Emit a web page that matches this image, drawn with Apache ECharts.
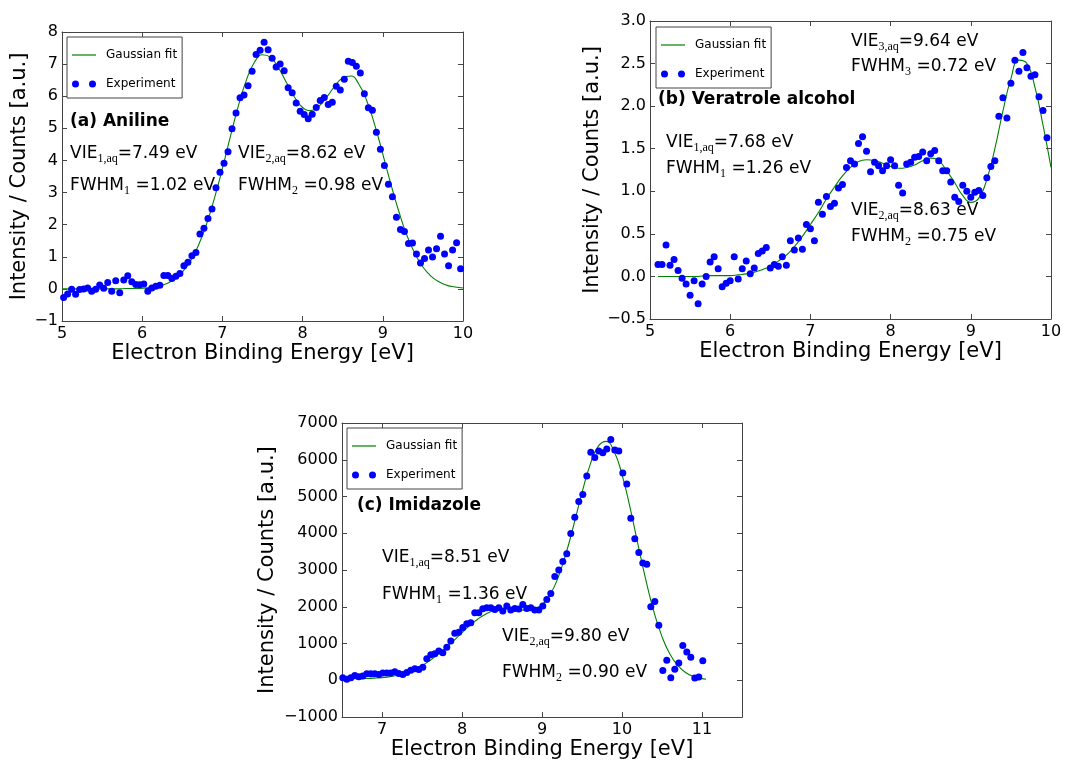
<!DOCTYPE html>
<html>
<head>
<meta charset="utf-8">
<script src="https://cdn.jsdelivr.net/npm/echarts@6/dist/echarts.min.js"></script>
<style>
html, body { margin: 0; padding: 0; background: #fff; }
#container { width: 1065px; height: 761px; }
</style>
</head>
<body>
<div id="container"></div>
<script>
// (a) Aniline - measured points
var anilineEnergy = [
	5.02, 5.07, 5.12, 5.17, 5.22, 5.27, 5.32, 5.37, 5.42, 5.47,
	5.52, 5.57, 5.62, 5.67, 5.72, 5.77, 5.82, 5.87, 5.92, 5.97,
	6.02, 6.07, 6.12, 6.17, 6.22, 6.27, 6.32, 6.37, 6.42, 6.47,
	6.52, 6.57, 6.62, 6.67, 6.72, 6.77, 6.82, 6.87, 6.92, 6.97,
	7.02, 7.07, 7.12, 7.17, 7.22, 7.27, 7.32, 7.37, 7.42, 7.47,
	7.52, 7.57, 7.62, 7.67, 7.72, 7.77, 7.82, 7.87, 7.92, 7.97,
	8.02, 8.07, 8.12, 8.17, 8.22, 8.27, 8.32, 8.37, 8.42, 8.47,
	8.52, 8.57, 8.62, 8.67, 8.72, 8.77, 8.82, 8.87, 8.92, 8.97,
	9.02, 9.07, 9.12, 9.17, 9.22, 9.27, 9.32, 9.37, 9.42, 9.47,
	9.52, 9.57, 9.62, 9.67, 9.72, 9.77, 9.82, 9.87, 9.92, 9.97
];
var anilineCounts = [
	-0.27, -0.16, -0.01, -0.17, -0.02, 0.00, 0.03, -0.07, -0.01, 0.12,
	0.02, 0.20, -0.07, 0.25, -0.12, 0.28, 0.41, 0.22, 0.14, 0.13,
	0.15, -0.07, 0.03, 0.08, 0.11, 0.42, 0.42, 0.32, 0.39, 0.48,
	0.72, 0.83, 1.03, 1.13, 1.71, 1.89, 2.19, 2.49, 3.15, 3.63,
	3.91, 4.27, 4.99, 5.48, 5.95, 6.04, 6.33, 6.78, 7.30, 7.43,
	7.68, 7.45, 7.18, 6.91, 7.00, 6.79, 6.26, 6.11, 5.79, 5.53,
	5.43, 5.30, 5.44, 5.65, 5.87, 5.96, 5.74, 5.81, 6.31, 6.19,
	6.53, 7.09, 7.05, 6.93, 6.72, 6.08, 5.64, 5.56, 4.88, 4.35,
	3.84, 3.26, 2.87, 2.23, 1.85, 1.79, 1.41, 1.43, 1.09, 0.81,
	0.95, 1.21, 0.99, 1.25, 1.64, 1.09, 0.72, 1.21, 1.44, 0.63
];
// (a) fitted curve
var anilineFitEnergy = [
	5.0, 5.1, 5.2, 5.3, 5.4, 5.5, 5.6, 5.7, 5.8, 5.9,
	6.0, 6.1, 6.2, 6.3, 6.4, 6.5, 6.6, 6.7, 6.8, 6.9,
	7.0, 7.1, 7.2, 7.3, 7.4, 7.5, 7.6, 7.7, 7.8, 7.9,
	8.0, 8.1, 8.2, 8.3, 8.4, 8.5, 8.6, 8.7, 8.8, 8.9,
	9.0, 9.1, 9.2, 9.3, 9.4, 9.5, 9.6, 9.7, 9.8, 9.9, 10.0
];
var anilineFit = [
	0.00, 0.00, 0.00, 0.00, 0.00, 0.00, 0.00, 0.00, 0.01, 0.01,
	0.02, 0.04, 0.08, 0.16, 0.30, 0.52, 0.86, 1.35, 2.00, 2.82,
	3.75, 4.75, 5.71, 6.51, 7.06, 7.29, 7.21, 6.88, 6.42, 5.97,
	5.65, 5.55, 5.68, 5.97, 6.31, 6.57, 6.63, 6.38, 5.86, 5.10,
	4.20, 3.27, 2.41, 1.67, 1.10, 0.68, 0.40, 0.22, 0.11, 0.06, 0.03
];

// (b) Veratrole alcohol
var veratroleEnergy = [
	5.10, 5.15, 5.20, 5.25, 5.30, 5.35, 5.40, 5.45, 5.50, 5.55,
	5.60, 5.65, 5.70, 5.75, 5.80, 5.85, 5.90, 5.95, 6.00, 6.05,
	6.10, 6.15, 6.20, 6.25, 6.30, 6.35, 6.40, 6.45, 6.50, 6.55,
	6.60, 6.65, 6.70, 6.75, 6.80, 6.85, 6.90, 6.95, 7.00, 7.05,
	7.10, 7.15, 7.20, 7.25, 7.30, 7.35, 7.40, 7.45, 7.50, 7.55,
	7.60, 7.65, 7.70, 7.75, 7.80, 7.85, 7.90, 7.95, 8.00, 8.05,
	8.10, 8.15, 8.20, 8.25, 8.30, 8.35, 8.40, 8.45, 8.50, 8.55,
	8.60, 8.65, 8.70, 8.75, 8.80, 8.85, 8.90, 8.95, 9.00, 9.05,
	9.10, 9.15, 9.20, 9.25, 9.30, 9.35, 9.40, 9.45, 9.50, 9.55,
	9.60, 9.65, 9.70, 9.75, 9.80, 9.85, 9.90, 9.95
];
var veratroleCounts = [
	0.14, 0.14, 0.37, 0.13, 0.20, 0.07, -0.02, -0.09, -0.22, -0.05,
	-0.32, -0.09, 0.00, 0.17, 0.23, 0.09, -0.12, -0.08, -0.05, 0.23,
	-0.03, 0.09, 0.18, 0.03, 0.10, 0.27, 0.30, 0.34, 0.10, 0.14,
	0.12, 0.23, 0.13, 0.42, 0.31, 0.45, 0.32, 0.61, 0.56, 0.42,
	0.87, 0.73, 0.94, 0.82, 0.86, 1.04, 1.08, 1.28, 1.36, 1.32,
	1.56, 1.64, 1.47, 1.23, 1.34, 1.30, 1.24, 1.30, 1.37, 1.30,
	1.07, 0.98, 1.32, 1.34, 1.40, 1.41, 1.46, 1.36, 1.44, 1.48,
	1.36, 1.24, 1.24, 1.11, 0.93, 0.88, 1.07, 1.00, 0.93, 0.99,
	1.01, 0.95, 1.16, 1.29, 1.36, 1.88, 2.10, 1.86, 2.27, 2.54,
	2.41, 2.63, 2.45, 2.35, 2.37, 2.11, 1.95, 1.63
];
var veratroleFitEnergy = [
	5.1, 5.2, 5.3, 5.4, 5.5, 5.6, 5.7, 5.8, 5.9,
	6.0, 6.1, 6.2, 6.3, 6.4, 6.5, 6.6, 6.7, 6.8, 6.9,
	7.0, 7.1, 7.2, 7.3, 7.4, 7.5, 7.6, 7.7, 7.8, 7.9,
	8.0, 8.1, 8.2, 8.3, 8.4, 8.5, 8.6, 8.7, 8.8, 8.9,
	9.0, 9.1, 9.2, 9.3, 9.4, 9.5, 9.6, 9.7, 9.8, 9.9, 10.0
];
var veratroleFit = [
	0.00, 0.00, 0.00, 0.00, 0.00, 0.00, 0.01, 0.01, 0.01,
	0.01, 0.02, 0.03, 0.05, 0.08, 0.12, 0.18, 0.25, 0.35, 0.47,
	0.61, 0.75, 0.91, 1.05, 1.18, 1.28, 1.35, 1.37, 1.36, 1.33,
	1.29, 1.27, 1.28, 1.31, 1.36, 1.39, 1.36, 1.24, 1.10, 0.95,
	0.87, 0.92, 1.14, 1.50, 1.94, 2.32, 2.54, 2.50, 2.22, 1.78, 1.28
];

// (c) Imidazole
var imidazoleEnergy = [
	6.51, 6.56, 6.61, 6.66, 6.71, 6.76, 6.81, 6.86, 6.91, 6.96,
	7.01, 7.06, 7.11, 7.16, 7.21, 7.26, 7.31, 7.36, 7.41, 7.46,
	7.51, 7.56, 7.61, 7.66, 7.71, 7.76, 7.81, 7.86, 7.91, 7.96,
	8.01, 8.06, 8.11, 8.16, 8.21, 8.26, 8.31, 8.36, 8.41, 8.46,
	8.51, 8.56, 8.61, 8.66, 8.71, 8.76, 8.81, 8.86, 8.91, 8.96,
	9.01, 9.06, 9.11, 9.16, 9.21, 9.26, 9.31, 9.36, 9.41, 9.46,
	9.51, 9.56, 9.61, 9.66, 9.71, 9.76, 9.81, 9.86, 9.91, 9.96,
	10.01, 10.06, 10.11, 10.16, 10.21, 10.26, 10.31, 10.36, 10.41, 10.46,
	10.51, 10.56, 10.61, 10.66, 10.71, 10.76, 10.81, 10.86, 10.91, 10.96,
	11.01
];
var imidazoleCounts = [
	72, 27, 72, 134, 98, 116, 179, 179, 179, 161,
	197, 197, 197, 232, 188, 161, 214, 277, 313, 295,
	357, 590, 697, 724, 795, 751, 903, 1072, 1278, 1305,
	1439, 1537, 1564, 1841, 1841, 1948, 1975, 1975, 1930, 1975,
	1886, 2020, 1912, 1957, 1939, 2064, 1957, 1975, 1912, 1912,
	2020, 2198, 2359, 2824, 3003, 3235, 3441, 3995, 4433, 4862,
	5058, 5559, 6202, 6059, 6237, 6193, 6291, 6550, 6264, 6237,
	5639, 5344, 4406, 3852, 3476, 3190, 3155, 2002, 2145, 1501,
	268, 545, 72, 304, 474, 947, 769, 626, 63, 89,
	536
];
var imidazoleFitEnergy = [
	6.5, 6.6, 6.7, 6.8, 6.9, 7.0, 7.1, 7.2, 7.3, 7.4,
	7.5, 7.6, 7.7, 7.8, 7.9, 8.0, 8.1, 8.2, 8.3, 8.4,
	8.5, 8.6, 8.7, 8.8, 8.9, 9.0, 9.1, 9.2, 9.3, 9.4,
	9.5, 9.6, 9.7, 9.8, 9.9, 10.0, 10.1, 10.2, 10.3, 10.4,
	10.5, 10.6, 10.7, 10.8, 10.9, 11.0, 11.05
];
var imidazoleFit = [
	40, 42, 45, 50, 60, 75, 100, 145, 210, 295,
	400, 540, 705, 890, 1090, 1300, 1495, 1670, 1805, 1900,
	1945, 1950, 1928, 1908, 1933, 2055, 2329, 2792, 3450, 4253,
	5104, 5854, 6357, 6500, 6232, 5598, 4704, 3692, 2709, 1856,
	1189, 711, 398, 208, 101, 46, 31
];
var imidazoleTicks = [7, 8, 9, 10, 11];

var fontMain = 'DejaVu Sans';
var frameColor = '#444';
var dotsIcon = 'path://M0,3.5a3.5,3.5 0 1,0 7,0a3.5,3.5 0 1,0 -7,0zM17,3.5a3.5,3.5 0 1,0 7,0a3.5,3.5 0 1,0 -7,0z';
var lineIcon = 'path://M0,0L24,0L24,1.2L0,1.2Z';

function pairs(xs, ys) {
	return xs.map(function (x, i) { return [x, ys[i]]; });
}
function minus(v) {
	return String(v).replace('-', '\u2212');
}

// axis helper: main axes carry labels, the others only close the frame
function xAxisFor(grid, pos, min, max, custom) {
	var main = pos === 'bottom';
	var ax = {
		type: 'value', gridIndex: grid, position: pos, min: min, max: max, interval: 1,
		axisLine: {show: true, onZero: false, lineStyle: {color: frameColor, width: 1}},
		axisTick: {show: true, inside: true, length: 5, lineStyle: {color: frameColor}},
		splitLine: {show: false},
		axisLabel: {show: main, color: '#000', fontSize: 16, fontFamily: fontMain, margin: 5, formatter: minus}
	};
	if (custom) {
		ax.axisTick.customValues = custom;
		ax.axisLabel.customValues = custom;
	}
	if (main) {
		ax.name = 'Electron Binding Energy [eV]';
		ax.nameLocation = 'middle';
		ax.nameGap = 17;
		ax.nameTextStyle = {fontSize: 21, fontFamily: fontMain, color: '#000', verticalAlign: 'top'};
	}
	return ax;
}
function yAxisFor(grid, pos, min, max, interval, fmt, gap) {
	var main = pos === 'left';
	var ax = {
		type: 'value', gridIndex: grid, position: pos, min: min, max: max, interval: interval,
		axisLine: {show: true, onZero: false, lineStyle: {color: frameColor, width: 1}},
		axisTick: {show: true, inside: true, length: 5, lineStyle: {color: frameColor}},
		splitLine: {show: false},
		axisLabel: {show: main, color: '#000', fontSize: 16, fontFamily: fontMain, margin: 4, formatter: fmt}
	};
	if (main) {
		ax.name = 'Intensity / Counts [a.u.]';
		ax.nameLocation = 'middle';
		ax.nameGap = gap;
		ax.nameTextStyle = {fontSize: 21, fontFamily: fontMain, color: '#000'};
	}
	return ax;
}

function legendFor(left, top) {
	return {
		orient: 'vertical', left: left, top: top,
		padding: [12, 5, 8, 5],
		itemWidth: 24, itemHeight: 12, itemGap: 17,
		symbolKeepAspect: true,
		borderColor: frameColor, borderWidth: 1, borderRadius: 0, backgroundColor: '#fff',
		selectedMode: false,
		itemStyle: {borderWidth: 0},
		textStyle: {fontSize: 12, fontFamily: fontMain, color: '#000', padding: [0, 0, 0, 5]},
		data: [
			{name: 'Gaussian fit', icon: lineIcon},
			{name: 'Experiment', icon: dotsIcon}
		]
	};
}

function note(x, y, text, bold) {
	return {
		type: 'text', x: x, y: y, z: 100,
		style: {
			text: text, fill: '#000', fontSize: 17, fontFamily: fontMain,
			fontWeight: bold ? 'bold' : 'normal', align: 'left', verticalAlign: 'middle',
			lineHeight: 22,
			rich: {
				s: {fontFamily: 'Liberation Serif', fontSize: 12, verticalAlign: 'bottom', lineHeight: 22, fill: '#000'}
			}
		}
	};
}

function fitSeries(xi, xs, ys) {
	return {
		name: 'Gaussian fit', type: 'line', xAxisIndex: xi, yAxisIndex: xi,
		data: pairs(xs, ys), showSymbol: false, smooth: true, z: 2,
		itemStyle: {color: '#008000'},
		lineStyle: {color: '#008000', width: 1.1}
	};
}
function dotSeries(xi, xs, ys) {
	return {
		name: 'Experiment', type: 'scatter', xAxisIndex: xi, yAxisIndex: xi,
		data: pairs(xs, ys), symbol: 'circle', symbolSize: 7, z: 3,
		itemStyle: {color: '#0000ff', opacity: 1}
	};
}

var option = {
	animation: false,
	backgroundColor: '#fff',
	grid: [
		{left: 62, top: 32, width: 401, height: 289},
		{left: 650, top: 21, width: 401, height: 298},
		{left: 342, top: 423, width: 400, height: 298}
	],
	xAxis: [
		xAxisFor(0, 'bottom', 5, 10),
		xAxisFor(0, 'top', 5, 10),
		xAxisFor(1, 'bottom', 5, 10),
		xAxisFor(1, 'top', 5, 10),
		xAxisFor(2, 'bottom', 6.5, 11.5, imidazoleTicks),
		xAxisFor(2, 'top', 6.5, 11.5, imidazoleTicks)
	],
	yAxis: [
		yAxisFor(0, 'left', -1, 8, 1, minus, 27),
		yAxisFor(0, 'right', -1, 8, 1, minus, 0),
		yAxisFor(1, 'left', -0.5, 3, 0.5, function (v) { return minus(v.toFixed(1)); }, 46),
		yAxisFor(1, 'right', -0.5, 3, 0.5, null, 0),
		yAxisFor(2, 'left', -1000, 7000, 1000, minus, 64),
		yAxisFor(2, 'right', -1000, 7000, 1000, null, 0)
	],
	legend: [
		legendFor(67, 37),
		legendFor(656, 27),
		legendFor(347, 428)
	],
	series: [
		fitSeries(0, anilineFitEnergy, anilineFit),
		dotSeries(0, anilineEnergy, anilineCounts),
		fitSeries(2, veratroleFitEnergy, veratroleFit),
		dotSeries(2, veratroleEnergy, veratroleCounts),
		fitSeries(4, imidazoleFitEnergy, imidazoleFit),
		dotSeries(4, imidazoleEnergy, imidazoleCounts)
	],
	graphic: [
		note(70, 122, '(a) Aniline', true),
		note(70, 154, 'VIE{s|1,aq}=7.49 eV'),
		note(70, 186, 'FWHM{s|1} =1.02 eV'),
		note(238, 154, 'VIE{s|2,aq}=8.62 eV'),
		note(238, 186, 'FWHM{s|2} =0.98 eV'),

		note(851, 42, 'VIE{s|3,aq}=9.64 eV'),
		note(851, 67, 'FWHM{s|3} =0.72 eV'),
		note(658, 100, '(b) Veratrole alcohol', true),
		note(666, 143, 'VIE{s|1,aq}=7.68 eV'),
		note(666, 169, 'FWHM{s|1} =1.26 eV'),
		note(851, 211, 'VIE{s|2,aq}=8.63 eV'),
		note(851, 237, 'FWHM{s|2} =0.75 eV'),

		note(357, 506, '(c) Imidazole', true),
		note(382, 558, 'VIE{s|1,aq}=8.51 eV'),
		note(382, 595, 'FWHM{s|1} =1.36 eV'),
		note(502, 637, 'VIE{s|2,aq}=9.80 eV'),
		note(502, 673, 'FWHM{s|2} =0.90 eV')
	]
};

var myChart = echarts.init(document.getElementById('container'), null, {renderer: 'canvas'});
myChart.setOption(option);
</script>
</body>
</html>
